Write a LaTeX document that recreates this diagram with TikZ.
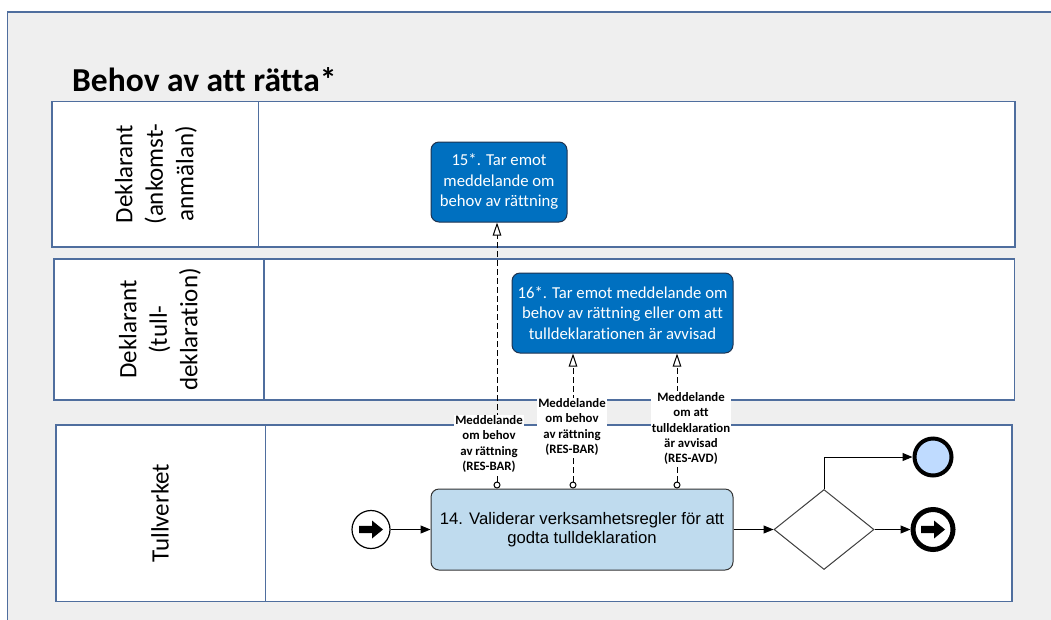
\documentclass[tikz,border=0pt]{standalone}
\usepackage{fontspec}
\setmainfont{Carlito}[Ligatures=NoCommon]
\newfontfamily\arialf{Liberation Sans}
\usetikzlibrary{arrows.meta,shapes.geometric,calc}
\definecolor{framegray}{HTML}{EFEFEF}
\definecolor{laneborder}{HTML}{4F6E9E}
\definecolor{darkbox}{HTML}{0070C0}
\definecolor{darkedge}{HTML}{1E3350}
\definecolor{lightbox}{HTML}{BFDBEE}
\definecolor{endfill}{HTML}{BFDBFF}
\tikzset{
  lanebox/.style={draw=laneborder, line width=1.3pt, fill=white},
  lanelabel/.style={rotate=90, align=center, font=\fontsize{25}{30.5}\selectfont},
  taskdark/.style={draw=darkedge, line width=1pt, fill=darkbox, rounded corners=8pt,
    text=white, align=center, inner sep=0pt, font=\fontsize{16.7}{20.5}\selectfont},
  tasklight/.style={draw=black!80, line width=1pt, fill=lightbox, rounded corners=8pt,
    text=black, align=center, inner sep=0pt, font=\arialf\fontsize{16.7}{19.5}\selectfont},
  seqflow/.style={line width=1pt, -{Triangle[length=10pt,width=8pt]}},
  msgflow/.style={line width=1pt, dash pattern=on 6pt off 3pt,
    {Circle[open,length=7pt,width=7pt,line width=1pt,fill=white]}-{Triangle[open,length=13pt,width=8.5pt,line width=1pt,fill=white]}},
  msglabel/.style={fill=white, align=center, inner sep=1pt,
    font=\bfseries\fontsize{12.8}{15.3}\selectfont},
}
\begin{document}
\begin{tikzpicture}[x=1pt,y=-1pt]
\useasboundingbox (0,0) rectangle (1051,619);
\fill[white] (0,0) rectangle (1051,619);
% outer pool frame
\begin{scope}
\clip (0,0) rectangle (1051,619);
\draw[draw=laneborder, line width=1.3pt, fill=framegray] (7.5,12) rectangle (1070,640);
\end{scope}
% title
\node[anchor=base west, inner sep=0pt, font=\bfseries\fontsize{33.5}{38}\selectfont] (title) at (72,91.7) {Behov av att rätta*};
% lanes
\draw[lanebox] (52,101.5) rectangle (1015,247);
\draw[draw=laneborder, line width=1.3pt] (258.5,101.5) -- (258.5,247);
\draw[lanebox] (54,259) rectangle (1014.5,400);
\draw[draw=laneborder, line width=1.3pt] (264,259) -- (264,400);
\draw[lanebox] (56,425) rectangle (1012,601.5);
\draw[draw=laneborder, line width=1.3pt] (265.5,425) -- (265.5,601.5);
\node[lanelabel] (lane1) at (156,174) {Deklarant\\(ankomst-\\anmälan)};
\node[lanelabel] (lane2) at (160,329.5) {Deklarant\\(tull-\\deklaration)};
\node[lanelabel] (lane3) at (160,513) {Tullverket};
% tasks
\node[taskdark, minimum width=136pt, minimum height=80pt] (b15) at (499,182) {15*. Tar emot\\meddelande om\\behov av rättning};
\node[taskdark, minimum width=221pt, minimum height=80pt] (b16) at (622.5,313) {16*. Tar emot meddelande om\\behov av rättning eller om att\\tulldeklarationen är avvisad};
\node[tasklight, minimum width=302pt, minimum height=81pt] (b14) at (582,529.5) {14. Validerar verksamhetsregler för att\\godta tulldeklaration};
% start event
\node[circle, draw=black, line width=1.2pt, fill=white, minimum size=38pt, inner sep=0pt] (start) at (371,529.5) {};
\fill[black] ($(start.center)+(-12,-3.6)$) -- ++(13,0) -- ++(0,-5.4) -- ++(11,9) -- ++(-11,9) -- ++(0,-5.4) -- ++(-13,0) -- cycle;
% gateway
\node[diamond, draw=black!75, line width=1pt, fill=white, minimum width=100pt, minimum height=80pt, inner sep=0pt] (gw) at (824,529.5) {};
% end events
\node[circle, draw=black, line width=4pt, fill=endfill, minimum size=37pt, inner sep=0pt] (endA) at (933,457) {};
\node[circle, draw=black, line width=5pt, fill=white, minimum size=40pt, inner sep=0pt] (endB) at (933,529.5) {};
\fill[black] ($(endB.center)+(-12,-3.6)$) -- ++(13,0) -- ++(0,-5.4) -- ++(11,9) -- ++(-11,9) -- ++(0,-5.4) -- ++(-13,0) -- cycle;
% sequence flows
\draw[seqflow] (start) -- (b14);
\draw[seqflow] (b14) -- (gw);
\draw[seqflow] (gw.north) |- (endA);
\draw[seqflow] (gw) -- (endB);
% message flows
\coordinate (m1) at (497,0);
\coordinate (m2) at (573,0);
\coordinate (m3) at (677,0);
\draw[msgflow] (b14.north -| m1) -- (b15.south -| m1);
\draw[msgflow] (b14.north -| m2) -- (b16.south -| m2);
\draw[msgflow] (b14.north -| m3) -- (b16.south -| m3);
% message labels
\node[msglabel] (l1) at (489,444) {Meddelande\\om behov\\av rättning\\(RES-BAR)};
\node[msglabel] (l2) at (572,427) {Meddelande\\om behov\\av rättning\\(RES-BAR)};
\node[msglabel] (l3) at (691,428.5) {Meddelande\\om att\\tulldeklaration\\är avvisad\\(RES-AVD)};
\end{tikzpicture}
\end{document}
